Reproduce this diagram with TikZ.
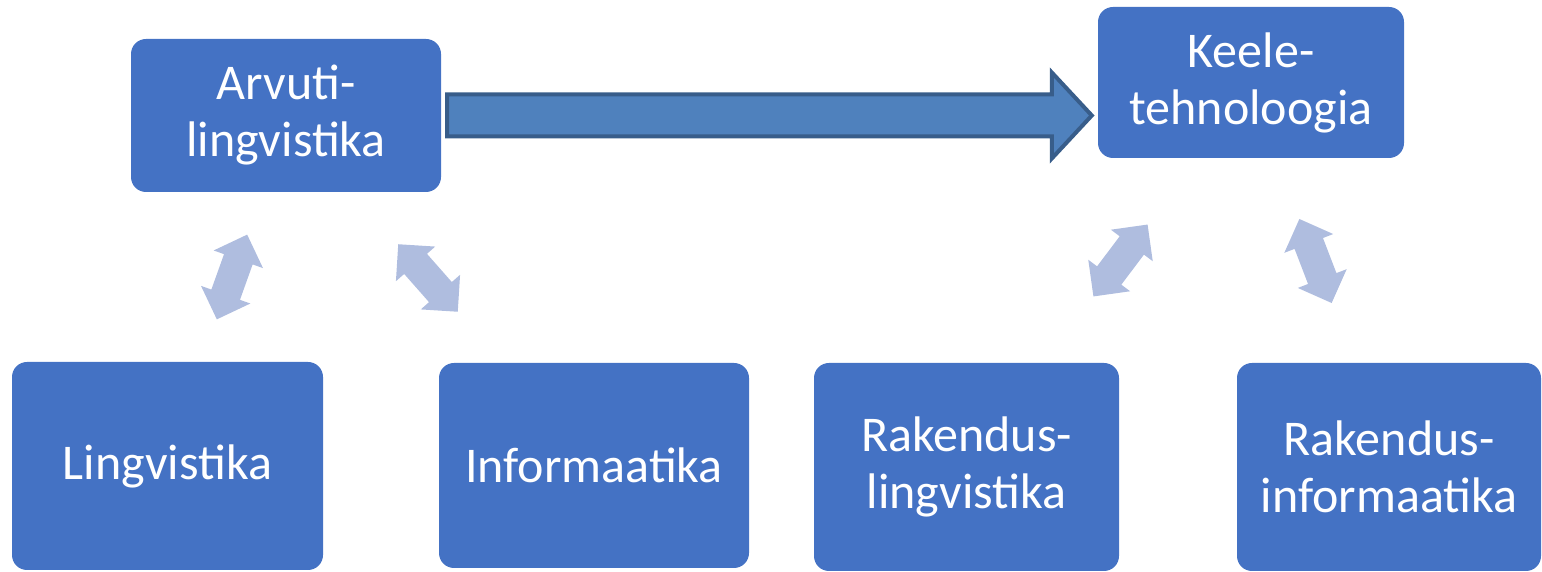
\documentclass[tikz,border=0pt]{standalone}
\usepackage{fontspec}
\setmainfont{Carlito}
\usetikzlibrary{calc,shapes.arrows}
\definecolor{boxblue}{HTML}{4472C4}
\definecolor{arrowfill}{HTML}{4F81BD}
\definecolor{arrowline}{HTML}{385D8A}
\definecolor{paleblue}{HTML}{AFBDDF}
\tikzset{
	field/.style={fill=boxblue, rounded corners=15pt, text=white, align=center, inner sep=0pt,
		font=\fontsize{50}{57}\selectfont},
	link/.style={double arrow, fill=paleblue, inner xsep=0pt, inner ysep=15pt, minimum height=90pt,
		minimum width=52pt, double arrow head extend=11pt, double arrow tip angle=90}
}
\begin{document}
\begin{tikzpicture}[x=1pt,y=1pt]
	\useasboundingbox (0,0) rectangle (1542,572);
	\node [field, minimum width=310pt, minimum height=153pt] (arvuti) at (286,456.5) {Arvuti-\\lingvistika};
	\node [field, minimum width=306pt, minimum height=151pt] (keele) at (1251,489.5) {Keele-\\tehnoloogia};
	\node [field, minimum width=311pt, minimum height=208pt] (ling) at (167.5,106) {Lingvistika};
	\node [field, minimum width=310pt, minimum height=205pt] (info) at (594,106.5) {Informaatika};
	\node [field, minimum width=305pt, minimum height=208pt] (rling) at (966.5,105) {Rakendus-\\lingvistika};
	\node [field, minimum width=304pt, minimum height=208pt] (rinfo) at (1389,105) {Rakendus-\\informaatika};
	% block arrow
	\coordinate (s) at ($(arvuti.east)+(6,0)$);
	\coordinate (t) at ($(arvuti.east -| keele.west)+(-6,0)$);
	\draw [arrowline, fill=arrowfill, line width=4pt, line join=miter]
		($(s)+(0,21)$) -- ($(t)+(-40,21)$) -- ($(t)+(-40,43)$) -- (t) -- ($(t)+(-40,-43)$)
		-- ($(t)+(-40,-21)$) -- ($(s)+(0,-21)$) -- cycle;
	% double arrows
	\node [link, rotate=70.3] (l1) at (232,295) {};
	\node [link, rotate=-48.6] (l2) at (428,294) {};
	\node [link, rotate=53] (l3) at (1120.5,311.5) {};
	\node [link, rotate=-69] (l4) at (1315.5,311) {};
\end{tikzpicture}
\end{document}
